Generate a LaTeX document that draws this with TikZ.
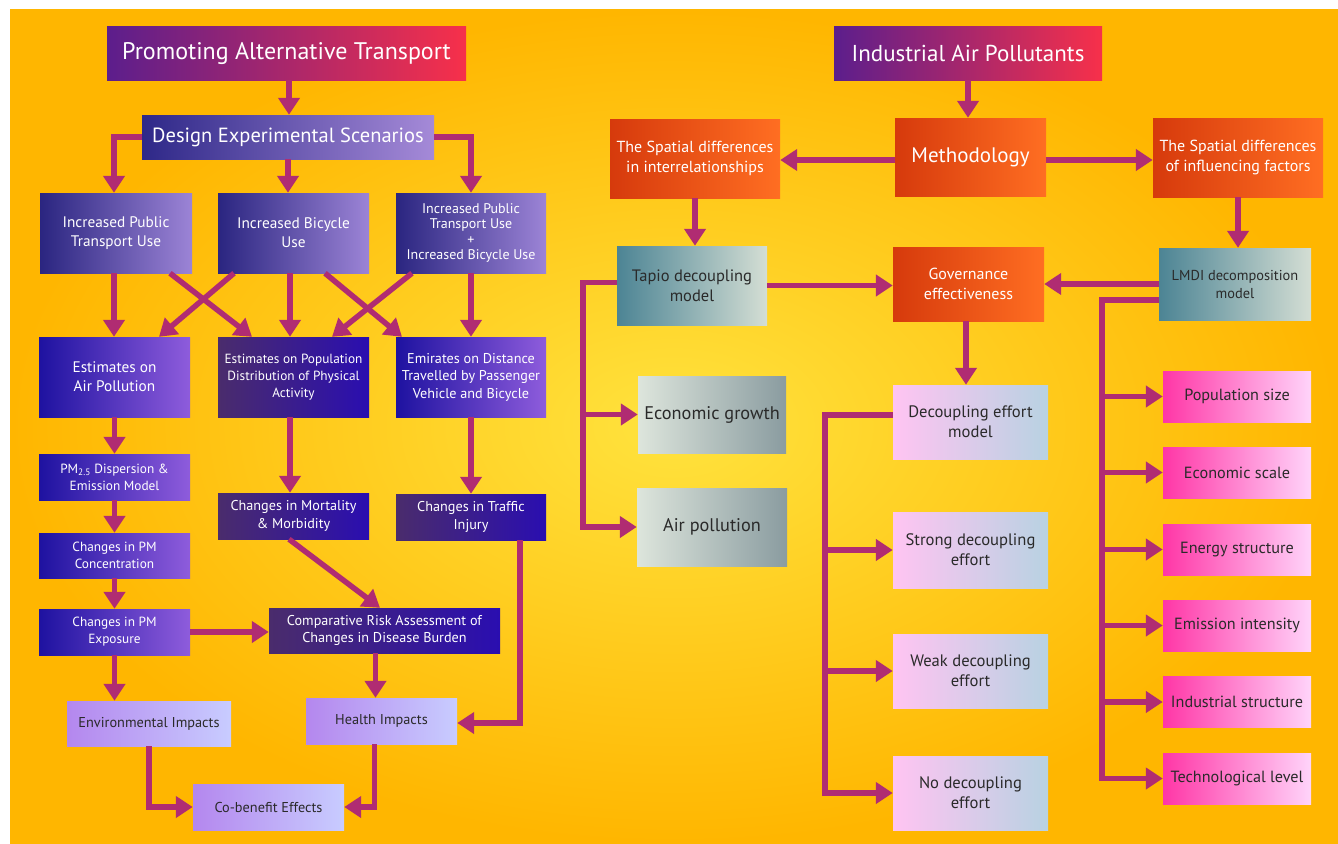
\documentclass[tikz,border=0pt]{standalone}
\usepackage{fontspec}
\setmainfont{PT Sans}
\usetikzlibrary{arrows.meta}
\definecolor{bgin}{HTML}{FFE33E}
\definecolor{bgout}{HTML}{FFB600}
\definecolor{arr}{HTML}{B02C72}
\definecolor{tpurple}{HTML}{5C1E8C}
\definecolor{tred}{HTML}{F7304A}
\definecolor{dsL}{HTML}{2E2888}
\definecolor{dsR}{HTML}{A58AD8}
\definecolor{scL}{HTML}{2A2580}
\definecolor{scR}{HTML}{9C84D6}
\definecolor{blL}{HTML}{1E12A0}
\definecolor{blR}{HTML}{8E5CDC}
\definecolor{dpL}{HTML}{4A2C6C}
\definecolor{dpR}{HTML}{2A0EB0}
\definecolor{lpL}{HTML}{B487EE}
\definecolor{lpR}{HTML}{C8CCFF}
\definecolor{orL}{HTML}{D63A0C}
\definecolor{orR}{HTML}{FF6E22}
\definecolor{tgL}{HTML}{4C8494}
\definecolor{tgR}{HTML}{D4DED4}
\definecolor{gyL}{HTML}{DDE5DC}
\definecolor{gyR}{HTML}{8A9CA0}
\definecolor{pkL}{HTML}{FFC4F2}
\definecolor{pkR}{HTML}{B8D2E2}
\definecolor{hpL}{HTML}{FF36A6}
\definecolor{hpR}{HTML}{FFD4FA}
\definecolor{dtext}{HTML}{2A2A2A}
\tikzset{
  sz/.style 2 args={minimum width=#1pt, minimum height=#2pt},
  fs/.style 2 args={font=\fontsize{#1}{#2}\selectfont},
  box/.style={draw=none, inner sep=2pt, align=center, text=white, fs={14}{18}},
  titlebox/.style={box, left color=tpurple, right color=tred, fs={24}{28}},
  designbox/.style={box, left color=dsL, right color=dsR, fs={20.5}{24}},
  scenbox/.style={box, left color=scL, right color=scR, fs={15.3}{19}},
  bluebox/.style={box, left color=blL, right color=blR},
  dpbox/.style={box, left color=dpL, right color=dpR},
  lpbox/.style={box, left color=lpL, right color=lpR, text=dtext},
  orbox/.style={box, left color=orL, right color=orR, fs={16}{20}},
  tgbox/.style={box, left color=tgL, right color=tgR, text=dtext, fs={16.5}{20}},
  gybox/.style={box, left color=gyL, right color=gyR, text=dtext, fs={18.3}{22}},
  pkbox/.style={box, left color=pkL, right color=pkR, text=dtext, fs={16.6}{20}},
  hpbox/.style={box, left color=hpL, right color=hpR, text=dtext, fs={16.2}{19}},
  conn/.style={draw=arr, line width=5.5pt, -{Triangle[width=21pt,length=17pt]}},
}
\begin{document}
\begin{tikzpicture}[x=1pt,y=-1pt]
\useasboundingbox (0,0) rectangle (1338,843);
\fill[white] (0,0) rectangle (1338,843);
\shade[inner color=bgin, outer color=bgout] (10,10) rectangle (1338,843);

% ---------- left diagram ----------
\node[titlebox, sz={359}{53}] (t1) at (286.5,53.5) {Promoting Alternative Transport};
\node[designbox, sz={292}{44}] (design) at (288,137) {Design Experimental Scenarios};
\node[scenbox, sz={152}{80}] (b1) at (116,233) {Increased Public\\Transport Use};
\node[scenbox, sz={151}{80}] (b2) at (293.5,233) {Increased Bicycle\\Use};
\node[scenbox, sz={150}{80}, fs={14}{15.5}] (b3) at (471,233) {Increased Public\\Transport Use\\+\\Increased Bicycle Use};
\node[bluebox, sz={151}{80}, fs={15.3}{19}] (b4) at (114.5,377) {Estimates on\\Air Pollution};
\node[dpbox, sz={151}{80}, fs={13.3}{17}] (b5) at (293.5,377) {Estimates on Population\\Distribution of Physical\\Activity};
\node[bluebox, sz={150}{80}, fs={14.2}{17.5}] (b6) at (471,377) {Emirates on Distance\\Travelled by Passenger\\Vehicle and Bicycle};
\node[bluebox, sz={151}{46}, fs={13.3}{17}] (b7) at (114.5,477) {PM\textsubscript{2.5} Dispersion \&\\Emission Model};
\node[bluebox, sz={151}{45}, fs={13.3}{17}] (b8) at (114.5,555.5) {Changes in PM\\Concentration};
\node[dpbox, sz={151}{46}, fs={14.2}{18}] (b9) at (293.5,516) {Changes in Mortality\\\& Morbidity};
\node[dpbox, sz={150}{46}, fs={14.2}{18}] (b10) at (471,517) {Changes in Traffic\\Injury};
\node[bluebox, sz={151}{46}, fs={13.3}{17}] (b11) at (114.5,632) {Changes in PM\\Exposure};
\node[dpbox, sz={231}{45}, fs={14.2}{17}] (b12) at (384.5,630.5) {Comparative Risk Assessment of\\Changes in Disease Burden};
\node[lpbox, sz={164}{45}, fs={14.3}{17}] (b13) at (149,723.5) {Environmental Impacts};
\node[lpbox, sz={151}{46}, fs={14.3}{17}] (b14) at (381.5,721) {Health Impacts};
\node[lpbox, sz={151}{46}, fs={14.3}{17}] (b15) at (268.5,807) {Co-benefit Effects};

\draw[conn] ([xshift=2.5pt]t1.south) -- ([xshift=2.5pt]t1.south |- design.north);
\draw[conn] (design.west) -| ([xshift=-2pt]b1.north);
\draw[conn] (design.south) -- (design.south |- b2.north);
\draw[conn] (design.east) -| (b3.north);
\draw[conn] ([xshift=-2pt]b1.south) -- ([xshift=-2pt]b1.south |- b4.north);
\draw[conn] ([xshift=-3.5pt]b2.south) -- ([xshift=-3.5pt]b2.south |- b5.north);
\draw[conn] (b3.south) -- (b3.south |- b6.north);
\draw[conn] ([xshift=54pt]b1.south) -- ([xshift=-41.5pt]b5.north);
\draw[conn] ([xshift=-59.5pt]b2.south) -- ([xshift=44.5pt]b4.north);
\draw[conn] ([xshift=31.5pt]b2.south) -- ([xshift=-69pt]b6.north);
\draw[conn] ([xshift=-59pt]b3.south) -- ([xshift=38.5pt]b5.north);
\draw[conn] (b4.south) -- (b4.south |- b7.north);
\draw[conn] (b7.south) -- (b7.south |- b8.north);
\draw[conn] (b8.south) -- (b8.south |- b11.north);
\draw[conn] ([xshift=-3.5pt]b5.south) -- ([xshift=-3.5pt]b5.south |- b9.north);
\draw[conn] (b6.south) -- (b6.south |- b10.north);
\draw[conn] ([xshift=-4.5pt]b9.south) -- ([xshift=-4.5pt]b12.north);
\draw[conn] (b11.east) -- (b11.east -| b12.west);
\draw[conn] ([xshift=-9pt]b12.south) -- ([xshift=-9pt]b12.south |- b14.north);
\draw[conn] ([xshift=49pt]b10.south) |- ([yshift=-2pt]b14.east);
\draw[conn] (b11.south) -- (b11.south |- b13.north);
\draw[conn] (b13.south) |- (b15.west);
\draw[conn] ([xshift=-7pt]b14.south) |- (b15.east);

% ---------- right diagram ----------
\node[titlebox, sz={268}{53}, fs={23}{27}] (t2) at (968,53.5) {Industrial Air Pollutants};
\node[orbox, sz={151}{78}, fs={21}{24}] (meth) at (970.5,157) {Methodology};
\node[orbox, sz={170}{79}] (inter) at (695,158.5) {The Spatial differences\\in interrelationships};
\node[orbox, sz={170}{79}] (infl) at (1238,157.5) {The Spatial differences\\of influencing factors};
\node[tgbox, sz={150}{79}] (tapio) at (692,285.5) {Tapio decoupling\\model};
\node[orbox, sz={151}{74}] (gov) at (968.5,284) {Governance\\effectiveness};
\node[tgbox, sz={152}{72}, fs={14.4}{18}] (lmdi) at (1235,284) {LMDI decomposition\\model};
\node[gybox, sz={148}{77}] (econ) at (712,414.5) {Economic growth};
\node[gybox, sz={150}{78}] (air) at (712,527) {Air pollution};
\node[pkbox, sz={155}{74}] (dem) at (970.5,422) {Decoupling effort\\model};
\node[pkbox, sz={155}{76}] (strong) at (970.5,550) {Strong decoupling\\effort};
\node[pkbox, sz={155}{74}] (weak) at (970.5,671) {Weak decoupling\\effort};
\node[pkbox, sz={155}{74}] (nodec) at (970.5,793) {No decoupling\\effort};
\node[hpbox, sz={148}{51}] (pop) at (1237,396.5) {Population size};
\node[hpbox, sz={148}{51}] (escale) at (1237,472.5) {Economic scale};
\node[hpbox, sz={148}{51}] (energy) at (1237,549.5) {Energy structure};
\node[hpbox, sz={148}{51}] (emis) at (1237,625.5) {Emission intensity};
\node[hpbox, sz={148}{51}] (indus) at (1237,702) {Industrial structure};
\node[hpbox, sz={148}{51}] (tech) at (1237,778.5) {Technological level};

\coordinate (tt) at (583,0);
\coordinate (dt) at (825,0);
\coordinate (lt) at (1102,0);

\draw[conn] (t2.south) -- (t2.south |- meth.north);
\draw[conn] ([yshift=-3pt]meth.west) -- ([yshift=-3pt]meth.west -| inter.east);
\draw[conn] ([yshift=-3pt]meth.east) -- ([yshift=-3pt]meth.east -| infl.west);
\draw[conn] (inter.south) -- (inter.south |- tapio.north);
\draw[conn] (infl.south) -- (infl.south |- lmdi.north);
\draw[conn] (tapio.east) -- (tapio.east -| gov.west);
\draw[conn] (lmdi.west) -- (lmdi.west -| gov.east);
\draw[conn] ([yshift=3pt]tapio.west) -| (tt |- air.west) -- (air.west);
\draw[conn] (tt |- econ.west) -- (econ.west);
\draw[conn] ([xshift=-2.5pt]gov.south) -- ([xshift=-2.5pt]gov.south |- dem.north);
\draw[conn] ([yshift=7pt]dem.west) -| (dt |- nodec.west) -- (nodec.west);
\draw[conn] (dt |- strong.west) -- (strong.west);
\draw[conn] (dt |- weak.west) -- (weak.west);
\draw[conn] ([yshift=-16pt]lmdi.west) -| (lt |- tech.west) -- (tech.west);
\draw[conn] (lt |- pop.west) -- (pop.west);
\draw[conn] (lt |- escale.west) -- (escale.west);
\draw[conn] (lt |- energy.west) -- (energy.west);
\draw[conn] (lt |- emis.west) -- (emis.west);
\draw[conn] (lt |- indus.west) -- (indus.west);
\end{tikzpicture}
\end{document}
